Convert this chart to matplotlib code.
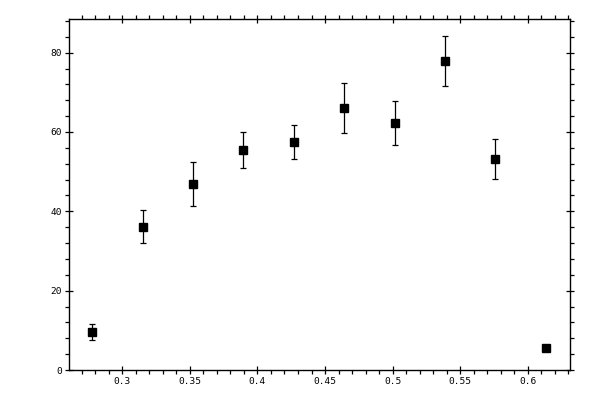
import numpy as np
import matplotlib
matplotlib.use("Agg")
import matplotlib.pyplot as plt
from matplotlib.ticker import MultipleLocator, FuncFormatter

# values
x_vals = [0.2778, 0.3155, 0.3525, 0.3895, 0.4272, 0.4642, 0.5019, 0.5389, 0.5759, 0.6136]
y_vals = [9.6, 36.1, 46.9, 55.4, 57.4, 66.0, 62.2, 77.8, 53.2, 5.5]
y_errs = [2.0, 4.2, 5.5, 4.6, 4.3, 6.3, 5.5, 6.3, 5.0, 0.6]

plt.rcParams['font.family'] = 'DejaVu Sans Mono'

fig = plt.figure(figsize=(6, 4), dpi=100)
ax = fig.add_axes([0.115, 0.075, 0.8355, 0.8767])

ax.errorbar(x_vals, y_vals, yerr=y_errs, fmt='s', color='black', ms=5.4,
            elinewidth=0.9, capsize=2.2, capthick=0.9)

ax.set_xlim(0.2606, 0.6314)
ax.set_ylim(0, 88.4)

ax.xaxis.set_major_locator(MultipleLocator(0.05))
ax.xaxis.set_minor_locator(MultipleLocator(0.01))
ax.yaxis.set_major_locator(MultipleLocator(20))
ax.yaxis.set_minor_locator(MultipleLocator(4))

def fmt(v, pos):
    s = ('%.2f' % v).rstrip('0').rstrip('.')
    return s
ax.xaxis.set_major_formatter(FuncFormatter(fmt))
ax.yaxis.set_major_formatter(FuncFormatter(lambda v, p: '%d' % round(v)))

ax.tick_params(which='major', direction='inout', length=6.2, width=0.9,
               top=True, right=True, labelsize=6.8, pad=2)
ax.tick_params(which='minor', direction='out', length=2.6, width=0.9,
               top=True, right=True)
for sp in ax.spines.values():
    sp.set_linewidth(1.0)

fig.savefig('out.png', dpi=100)
